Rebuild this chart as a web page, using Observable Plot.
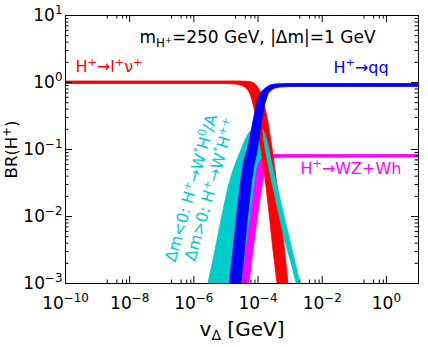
<!DOCTYPE html>
<html><head><meta charset="utf-8">
<script src="https://cdn.jsdelivr.net/npm/d3@7"></script>
<script src="https://cdn.jsdelivr.net/npm/@observablehq/plot@0.6"></script>
<style>body{margin:0;background:#fff} svg{display:block}</style>
</head><body><div id="chart"></div>
<script>
// ---- data: band edges, [v_Delta (GeV), BR] ----
const redLeft = [[1e-10,0.950],[9.68e-6,0.950],[2.13e-5,0.934],[3.05e-5,0.896],[4.06e-5,0.842],[5.05e-5,0.760],[5.82e-5,0.662],[6.71e-5,0.538],[7.76e-5,0.409],[8.95e-5,0.290],[1.03e-4,0.192],[1.28e-4,0.0966],[1.59e-4,0.0486],[1.97e-4,0.0206],[2.44e-4,0.00813],[3.03e-4,0.00311],[4.04e-4,0.001],[4.67e-4,0.000618]];
const redRight = [[1e-10,1.035],[2.84e-5,1.035],[5.82e-5,1.017],[7.76e-5,0.966],[9.62e-5,0.872],[1.19e-4,0.734],[1.38e-4,0.597],[1.59e-4,0.469],[1.84e-4,0.345],[2.12e-4,0.244],[2.44e-4,0.162],[2.82e-4,0.1035],[3.50e-4,0.0486],[4.35e-4,0.0220],[5.38e-4,0.00934],[6.67e-4,0.00369],[8.89e-4,0.001],[1.03e-3,0.000618]];
const blueLeft = [[1.24e-5,7.87e-4],[1.32e-5,0.001],[1.72e-5,0.00311],[2.13e-5,0.00813],[2.64e-5,0.0206],[3.16e-5,0.0409],[3.78e-5,0.0685],[4.69e-5,0.0966],[5.82e-5,0.151],[7.21e-5,0.262],[9.29e-5,0.469],[1.11e-4,0.618],[1.38e-4,0.734],[1.84e-4,0.828],[2.44e-4,0.902],[3.50e-4,0.934],[7.18e-4,0.950],[10,0.950]];
const blueRight = [[2.84e-5,7.87e-4],[3.05e-5,0.001],[3.93e-5,0.00311],[4.69e-5,0.00813],[5.61e-5,0.0173],[6.58e-5,0.0344],[7.76e-5,0.0577],[9.42e-5,0.0871],[1.135e-4,0.151],[1.35e-4,0.271],[1.71e-4,0.486],[2.16e-4,0.686],[2.82e-4,0.773],[3.50e-4,0.814],[5.01e-4,0.842],[1.03e-3,0.857],[0.0181,0.857],[10,0.857]];
const magentaLeft = [[3.05e-5,7.87e-4],[3.28e-5,0.001],[4.37e-5,0.00311],[5.82e-5,0.00871],[7.76e-5,0.0244],[9.35e-5,0.0486],[1.11e-4,0.064],[1.38e-4,0.0734],[1.84e-4,0.080],[2.82e-4,0.0828],[10,0.0828]];
const magentaRight = [[5.05e-5,7.87e-4],[5.42e-5,0.001],[7.21e-5,0.00311],[9.62e-5,0.00871],[1.28e-4,0.0228],[1.59e-4,0.0409],[1.97e-4,0.0577],[2.44e-4,0.0685],[3.26e-4,0.0734],[5.01e-4,0.0752],[10,0.076]];
const cyanRiseOuter = [[2.56e-6,7.87e-4],[2.86e-6,0.001],[4.40e-6,0.00262],[6.53e-6,0.00685],[9.02e-6,0.0146],[1.20e-5,0.0271],[1.60e-5,0.0439],[2.13e-5,0.064],[2.84e-5,0.0902],[3.78e-5,0.127],[5.05e-5,0.1675],[6.71e-5,0.199],[8.95e-5,0.213],[1.19e-4,0.209],[1.48e-4,0.192]];
const cyanRiseInner = [[3.52e-5,7.87e-4],[3.78e-5,0.001],[4.69e-5,0.00186],[5.82e-5,0.00369],[6.97e-5,0.00618],[8.34e-5,0.01035],[9.62e-5,0.0156],[1.11e-4,0.0244],[1.236e-4,0.0344],[1.38e-4,0.0486],[1.406e-4,0.0685],[1.43e-4,0.0966],[1.45e-4,0.136],[1.47e-4,0.162],[1.48e-4,0.192]];
const cyanFallOuter = [[1.48e-4,0.192],[1.71e-4,0.1675],[1.97e-4,0.1315],[2.28e-4,0.0966],[2.62e-4,0.0685],[3.10e-4,0.0486],[3.98e-4,0.029],[5.78e-4,0.01361],[9.29e-4,0.0052],[1.52e-3,0.00192],[2.10e-3,0.001],[2.34e-3,7.87e-4]];
const cyanFallInner = [[1.48e-4,0.192],[1.56e-4,0.136],[1.76e-4,0.0966],[2.02e-4,0.0685],[2.30e-4,0.0486],[3.00e-4,0.0271],[4.30e-4,0.0123],[6.60e-4,0.00486],[1.04e-3,0.0022],[1.38e-3,0.00131],[1.60e-3,0.001],[1.78e-3,7.87e-4]];

// ---- ticks ----
const xTickValues = [1e-10, 1e-8, 1e-6, 1e-4, 1e-2, 1];
const xTickLabels = ["10^{−10}", "10^{−8}", "10^{−6}", "10^{−4}", "10^{−2}", "10^{0}"];
const xMinorTicks = [2e-9,4e-9,6e-9,8e-9, 2e-7,4e-7,6e-7,8e-7, 2e-5,4e-5,6e-5,8e-5, 2e-3,4e-3,6e-3,8e-3, 0.2,0.4,0.6,0.8];
const yTickValues = [1e-3, 1e-2, 1e-1, 1, 10];
const yTickLabels = ["10^{−3}", "10^{−2}", "10^{−1}", "10^{0}", "10^{1}"];
const yMinorTicks = [2e-3,3e-3,4e-3,5e-3,6e-3,7e-3,8e-3,9e-3, 2e-2,3e-2,4e-2,5e-2,6e-2,7e-2,8e-2,9e-2, 0.2,0.3,0.4,0.5,0.6,0.7,0.8,0.9, 2,3,4,5,6,7,8,9];

// ---- labels ----
const labelText = ["m_{H^{+}}=250 GeV, |Δm|=1 GeV", "H^{+}→l^{+}ν^{+}", "H^{+}→qq", "H^{+}→WZ+Wh"];
const labelX = [2.02e-8, 2.05e-10, 0.0225, 2.1e-3];
const labelY = [4.64, 1.70, 1.68, 0.0522];
const labelColor = ["black", "#ff0000", "#0000ff", "#ff00ff"];
const labelSize = [17, 16, 16, 16];
const cyanLabelText = ["Δm<0: H^{+}→W^{*}H^{0}/A", "Δm>0: H^{+}→W^{*}H^{++}"];
const cyanLabelX = [8.4e-7, 3.3e-6];
const cyanLabelY = [0.0266, 0.0253];

const W = 428, H = 347, mL = 65, mR = 10, mT = 15, mB = 64;
const fW = W - mL - mR, fH = H - mT - mB;
const RED = "#ff0000", BLUE = "#0000ff", CYAN = "#00cccc", MAG = "#ff00ff";

const pair = (a, b) => a.map((p, i) => ({x1: p[0], y1: p[1], x2: b[i][0], y2: b[i][1]}));
const band = (a, b, c) => Plot.area(pair(a, b), {x1: "x1", y1: "y1", x2: "x2", y2: "y2", fill: c, stroke: c, strokeWidth: 0.8, clip: true});

const xFmt = d => xTickLabels[xTickValues.indexOf(d)];
const yFmt = d => yTickLabels[yTickValues.indexOf(d)];

const chart = Plot.plot({
  width: W, height: H,
  marginLeft: mL, marginRight: mR, marginTop: mT, marginBottom: mB,
  style: {fontFamily: "'DejaVu Sans', sans-serif", fontSize: "16px", background: "white", color: "black"},
  x: {type: "log", domain: [1e-10, 10]},
  y: {type: "log", domain: [1e-3, 10]},
  marks: [
    band(cyanRiseOuter, cyanRiseInner, CYAN),
    band(magentaLeft, magentaRight, MAG),
    band(redLeft, redRight, RED),
    band(cyanFallOuter, cyanFallInner, CYAN),
    band(blueLeft, blueRight, BLUE),
    // ticks (inward, all four sides)
    Plot.tickX(xTickValues, {x: d => d, insetTop: fH - 7, stroke: "black"}),
    Plot.tickX(xTickValues, {x: d => d, insetBottom: fH - 7, stroke: "black"}),
    Plot.tickX(xMinorTicks, {x: d => d, insetTop: fH - 3.5, stroke: "black"}),
    Plot.tickX(xMinorTicks, {x: d => d, insetBottom: fH - 3.5, stroke: "black"}),
    Plot.tickY(yTickValues, {y: d => d, insetRight: fW - 7, stroke: "black"}),
    Plot.tickY(yTickValues, {y: d => d, insetLeft: fW - 7, stroke: "black"}),
    Plot.tickY(yMinorTicks, {y: d => d, insetRight: fW - 3.5, stroke: "black"}),
    Plot.tickY(yMinorTicks, {y: d => d, insetLeft: fW - 3.5, stroke: "black"}),
    Plot.axisX(xTickValues, {tickSize: 0, tickPadding: 13, tickFormat: xFmt, label: null, fontSize: 17}),
    Plot.axisY(yTickValues, {tickSize: 0, tickPadding: 3, tickFormat: yFmt, label: null, fontSize: 17}),
    Plot.frame({stroke: "black", strokeWidth: 1}),
    Plot.text(labelText, {x: labelX, y: labelY, text: d => d, fill: labelColor, fontSize: labelSize, textAnchor: "start", lineAnchor: "middle"}),
    Plot.text(cyanLabelText, {x: cyanLabelX, y: cyanLabelY, text: d => d, fill: CYAN, fontSize: 16, rotate: -74, textAnchor: "middle", lineAnchor: "middle"}),
    Plot.text(["v_{Δ} [GeV]"], {frameAnchor: "bottom", dy: 46, fontSize: 20, textAnchor: "middle", lineAnchor: "middle"}),
    Plot.text(["BR(H^{+})"], {frameAnchor: "left", dx: -54, rotate: -90, fontSize: 16.5, textAnchor: "middle", lineAnchor: "middle"})
  ]
});
document.getElementById("chart").appendChild(chart);

// ---- rich text: ^{...} superscripts and _{...} subscripts as tspans ----
function parse(s, scale, off, out) {
  let i = 0, buf = "";
  while (i < s.length) {
    const c = s[i];
    if ((c === "^" || c === "_") && s[i + 1] === "{") {
      if (buf) { out.push({t: buf, scale, off}); buf = ""; }
      let depth = 0, j = i + 1;
      for (; j < s.length; j++) {
        if (s[j] === "{") depth++;
        else if (s[j] === "}") { depth--; if (depth === 0) break; }
      }
      const inner = s.slice(i + 2, j);
      const no = off + (c === "^" ? -0.38 * scale : 0.22 * scale);
      parse(inner, scale * 0.7, no, out);
      i = j + 1;
    } else { buf += c; i++; }
  }
  if (buf) out.push({t: buf, scale, off});
}
chart.querySelectorAll("text").forEach(t => {
  const s = t.textContent;
  if (!/[\^_]\{/.test(s)) return;
  const fs = parseFloat(getComputedStyle(t).fontSize) || 16;
  const segs = [];
  parse(s, 1, 0, segs);
  while (t.firstChild) t.removeChild(t.firstChild);
  let prev = 0;
  for (const seg of segs) {
    const ts = document.createElementNS("http://www.w3.org/2000/svg", "tspan");
    ts.textContent = seg.t;
    if (seg.scale !== 1) ts.setAttribute("font-size", (fs * seg.scale).toFixed(2) + "px");
    const dy = (seg.off - prev) * fs;
    if (Math.abs(dy) > 1e-6) ts.setAttribute("dy", dy.toFixed(2));
    prev = seg.off;
    t.appendChild(ts);
  }
});
</script>
</body></html>
